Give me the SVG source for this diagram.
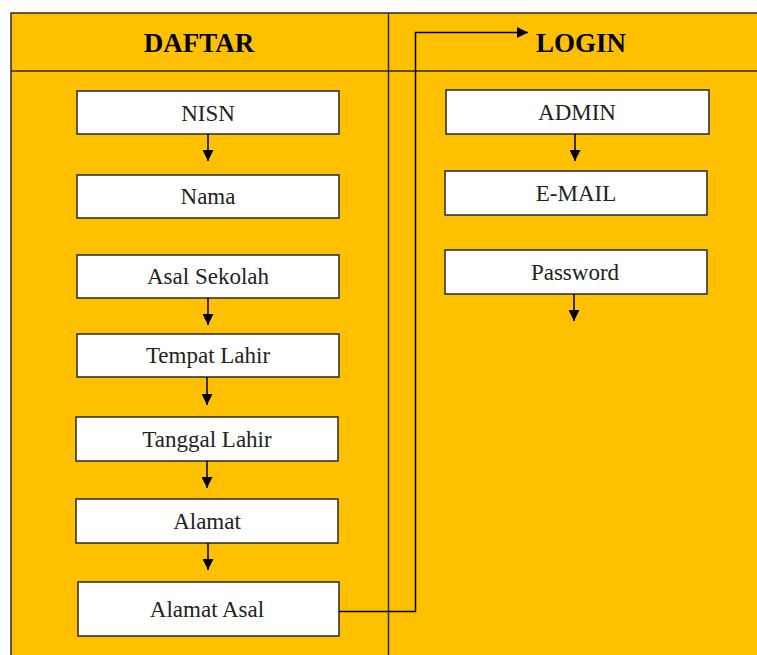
<svg xmlns="http://www.w3.org/2000/svg" width="757" height="655" viewBox="0 0 757 655">
  <style>
    .lane { fill: #FFC000; stroke: #2a2a2a; stroke-width: 1.5; }
    .rule { stroke: #2a2a2a; stroke-width: 1.5; fill: none; }
    .head { font-family: "Liberation Serif", "Times New Roman", serif; font-size: 27px; font-weight: bold; fill: #000; text-anchor: middle; }
    .box rect { fill: #fff; stroke: #333; stroke-width: 1.6; }
    .box text { font-family: "Liberation Serif", "Times New Roman", serif; font-size: 23px; fill: #222; text-anchor: middle; }
    .conn { stroke: #000; stroke-width: 1.5; fill: none; marker-end: url(#ah); }
  </style>
  <defs>
    <marker id="ah" viewBox="0 0 10 10" refX="10" refY="5" markerWidth="11" markerHeight="11" markerUnits="userSpaceOnUse" orient="auto">
      <path d="M0,0 L10,5 L0,10 z" fill="#000"/>
    </marker>
  </defs>

  <rect width="757" height="655" fill="#fff"/>

  <!-- swimlane frame -->
  <g id="lanes">
    <rect class="lane" x="11" y="13" width="760" height="660"/>
    <line class="rule" x1="11" y1="71" x2="757" y2="71"/>
    <line class="rule" x1="388.5" y1="13" x2="388.5" y2="655"/>
    <text class="head" x="199" y="52">DAFTAR</text>
    <text class="head" x="581" y="52">LOGIN</text>
  </g>

  <!-- DAFTAR lane -->
  <g id="nisn" class="box"><rect x="77" y="91" width="262" height="43"/><text x="208" y="121">NISN</text></g>
  <g id="nama" class="box"><rect x="77" y="175" width="262" height="43"/><text x="208" y="204">Nama</text></g>
  <g id="asal-sekolah" class="box"><rect x="77" y="255" width="262" height="43"/><text x="208" y="284">Asal Sekolah</text></g>
  <g id="tempat-lahir" class="box"><rect x="77" y="334" width="262" height="43"/><text x="208" y="363">Tempat Lahir</text></g>
  <g id="tanggal-lahir" class="box"><rect x="76" y="417" width="262" height="44"/><text x="207" y="447">Tanggal Lahir</text></g>
  <g id="alamat" class="box"><rect x="76" y="499" width="262" height="44"/><text x="207" y="529">Alamat</text></g>
  <g id="alamat-asal" class="box"><rect x="78" y="582" width="261" height="54"/><text x="207" y="617">Alamat Asal</text></g>

  <!-- LOGIN lane -->
  <g id="admin" class="box"><rect x="446" y="90" width="263" height="44"/><text x="577" y="120">ADMIN</text></g>
  <g id="email" class="box"><rect x="445" y="171" width="262" height="44"/><text x="576" y="201">E-MAIL</text></g>
  <g id="password" class="box"><rect x="445" y="250" width="262" height="44"/><text x="575" y="280">Password</text></g>

  <!-- connectors -->
  <g id="connectors">
    <line class="conn" x1="208" y1="134" x2="208" y2="161"/>
    <line class="conn" x1="208" y1="298" x2="208" y2="325"/>
    <line class="conn" x1="207" y1="377" x2="207" y2="405"/>
    <line class="conn" x1="207" y1="461" x2="207" y2="488"/>
    <line class="conn" x1="208" y1="543" x2="208" y2="570"/>
    <polyline class="conn" points="339,611.5 415.5,611.5 415.5,32.5 528,32.5"/>
    <line class="conn" x1="575" y1="134" x2="575" y2="161"/>
    <line class="conn" x1="574" y1="294" x2="574" y2="321"/>
  </g>
</svg>
